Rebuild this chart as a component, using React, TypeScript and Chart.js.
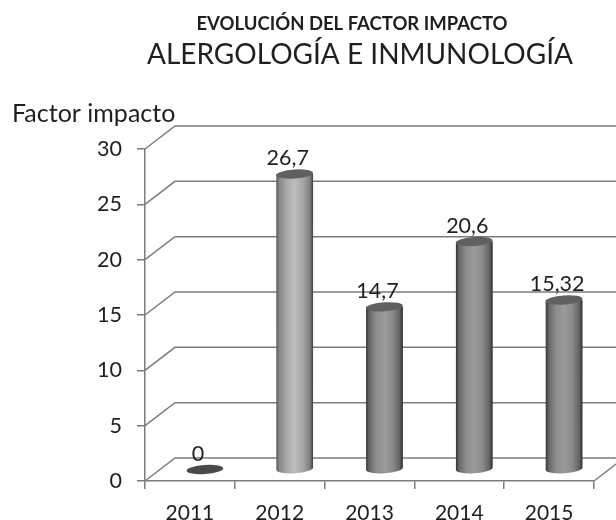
import React, { useEffect, useRef } from "react";
import { Chart, registerables } from "chart.js";

Chart.register(...registerables);

const years = ["2011", "2012", "2013", "2014", "2015"];
const factorImpacto = [0, 26.7, 14.7, 20.6, 15.32];
const valueLabels = ["0", "26,7", "14,7", "20,6", "15,32"];
const yTicks = [0, 5, 10, 15, 20, 25, 30];
const titleText = "EVOLUCIÓN DEL FACTOR IMPACTO";
const subtitleText = "ALERGOLOGÍA E INMUNOLOGÍA";
const axisTitle = "Factor impacto";

const FONT = "Lato, 'Noto Sans', sans-serif";
const INK = "#1f1f1f";
const LINE = "#7c7c7c";
const DEPTH_X = 30;
const DEPTH_Y = 23;
const TILT = -0.07;

const scene3d = {
  id: "scene3d",
  afterLayout(chart: any) {
    chart.boxes.forEach((box: any) => {
      const text = box.options && box.options.text;
      const shift = text === titleText ? 55 : text === subtitleText ? 63 : 0;
      box.left += shift;
      box.right += shift;
    });
  },
  beforeDatasetsDraw(chart: any) {
    const { ctx, scales, chartArea } = chart;
    const y = scales.y;
    ctx.save();
    ctx.strokeStyle = LINE;
    ctx.lineWidth = 1.5;
    yTicks.forEach((t) => {
      const py = y.getPixelForValue(t);
      ctx.beginPath();
      ctx.moveTo(chartArea.left, py);
      ctx.lineTo(chartArea.left + DEPTH_X, py - DEPTH_Y);
      ctx.lineTo(chart.width, py - DEPTH_Y);
      ctx.stroke();
    });
    ctx.beginPath();
    ctx.moveTo(chartArea.right, chartArea.bottom);
    ctx.lineTo(chartArea.right + DEPTH_X, chartArea.bottom - DEPTH_Y);
    ctx.stroke();
    ctx.restore();
  },
  afterDatasetsDraw(chart: any) {
    const { ctx } = chart;
    const meta = chart.getDatasetMeta(0);
    meta.data.forEach((bar: any, i: number) => {
      const cx = bar.x + DEPTH_X / 2;
      const top = bar.y - DEPTH_Y / 2;
      const base = bar.base - DEPTH_Y / 2;
      const rx = bar.width / 2;
      const ry = 4.5;
      const light = i === 1;
      ctx.save();
      if (base - top > 1) {
        const g = ctx.createLinearGradient(cx - rx, 0, cx + rx, 0);
        g.addColorStop(0, light ? "#585858" : "#333333");
        g.addColorStop(0.09, light ? "#8a8a8a" : "#686868");
        g.addColorStop(0.28, light ? "#a8a8a8" : "#8c8c8c");
        g.addColorStop(0.5, light ? "#bdbdbd" : "#9b9b9b");
        g.addColorStop(0.72, light ? "#a6a6a6" : "#8a8a8a");
        g.addColorStop(0.91, light ? "#808080" : "#646464");
        g.addColorStop(1, light ? "#404040" : "#2c2c2c");
        ctx.fillStyle = g;
        ctx.beginPath();
        ctx.ellipse(cx, base, rx, ry, TILT, 0, Math.PI);
        ctx.lineTo(cx - rx, top);
        ctx.lineTo(cx + rx, top);
        ctx.closePath();
        ctx.fill();
      }
      ctx.fillStyle = base - top > 1 ? "#606060" : "#4a4a4a";
      ctx.beginPath();
      ctx.ellipse(cx, top, rx, ry, TILT, 0, Math.PI * 2);
      ctx.fill();
      ctx.restore();

      ctx.save();
      ctx.fillStyle = INK;
      ctx.font = `21.5px ${FONT}`;
      ctx.textAlign = "center";
      ctx.textBaseline = "middle";
      ctx.fillText(valueLabels[i], bar.x + 8, top - 15.5);
      ctx.restore();
    });

    ctx.save();
    ctx.fillStyle = INK;
    ctx.font = `25px ${FONT}`;
    ctx.textAlign = "left";
    ctx.textBaseline = "middle";
    ctx.fillText(axisTitle, 12, 114);
    ctx.restore();
  },
};

export default function App() {
  const ref = useRef<HTMLCanvasElement>(null);
  useEffect(() => {
    const chart = new Chart(ref.current as HTMLCanvasElement, {
      type: "bar",
      data: {
        labels: years,
        datasets: [
          {
            label: axisTitle,
            data: factorImpacto,
            backgroundColor: "rgba(0,0,0,0)",
            barPercentage: 0.41,
            categoryPercentage: 1,
          },
        ],
      },
      options: {
        responsive: false,
        animation: false,
        layout: { padding: { left: 0, right: 22, top: 0, bottom: 0 } },
        plugins: {
          legend: { display: false },
          tooltip: { enabled: false },
          title: {
            display: true,
            text: titleText,
            color: INK,
            font: { family: FONT, size: 18.5, weight: "bold" },
            padding: { top: 13, bottom: 3 },
          },
          subtitle: {
            display: true,
            text: subtitleText,
            color: INK,
            font: { family: FONT, size: 28, weight: "normal" },
            padding: { top: 0, bottom: 77.2 },
          },
        },
        scales: {
          x: {
            grid: { drawOnChartArea: false, color: LINE, tickLength: 8, lineWidth: 1.5 },
            border: { color: LINE, width: 1.5 },
            ticks: { color: INK, font: { family: FONT, size: 21 }, padding: 12, maxRotation: 0 },
            afterFit: (s: any) => {
              s.height = 39;
            },
          },
          y: {
            min: 0,
            max: 30,
            grid: { drawOnChartArea: false, color: LINE, tickLength: 8, lineWidth: 1.5 },
            border: { color: LINE, width: 1.5 },
            ticks: { stepSize: 5, color: INK, font: { family: FONT, size: 21.5 }, padding: 15 },
            afterFit: (s: any) => {
              s.width = 145;
            },
          },
        },
      },
      plugins: [scene3d],
    } as any);
    return () => chart.destroy();
  }, []);
  return (
    <div style={{ position: "absolute", left: 0, top: 0, width: 616, height: 520, background: "#fff" }}>
      <canvas ref={ref} width={616} height={520} style={{ display: "block", filter: "blur(0.4px)" }} />
    </div>
  );
}
